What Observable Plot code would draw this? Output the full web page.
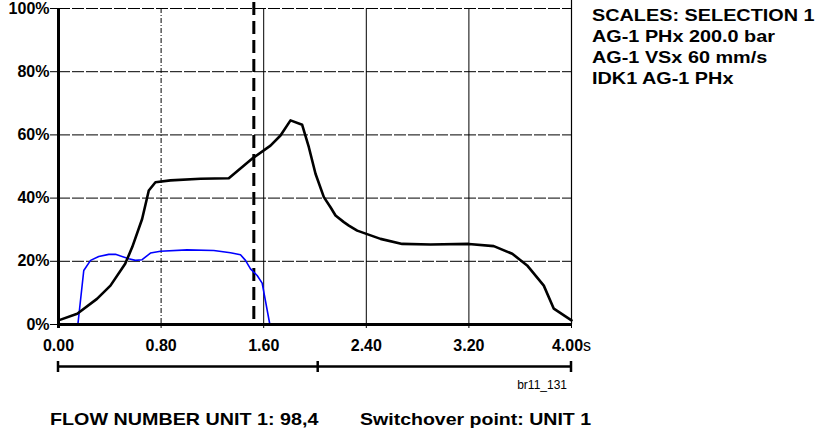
<!DOCTYPE html>
<html><head><meta charset="utf-8">
<script src="https://cdn.jsdelivr.net/npm/d3@7"></script>
<script src="https://cdn.jsdelivr.net/npm/@observablehq/plot@0.6"></script>
<style>body{margin:0;background:#fff} #chart{position:relative;width:815px;height:434px}</style>
</head><body><div id="chart"></div>
<script>
const xTicks = [0, 0.8, 1.6, 2.4, 3.2, 4.0];
const yTicks = [0, 20, 40, 60, 80, 100];
const pressureTime = [0, 0.146, 0.30, 0.405, 0.52, 0.575, 0.652, 0.704, 0.756, 0.873, 1.107, 1.328, 1.523, 1.653, 1.731, 1.809, 1.90, 1.952, 2.004, 2.069, 2.121, 2.16, 2.225, 2.264, 2.329, 2.511, 2.68, 2.90, 3.199, 3.394, 3.538, 3.654, 3.784, 3.862, 4.0];
const pressurePct  = [1.3, 3.4, 8.1, 12.3, 19.2, 24.5, 33.4, 42.4, 45.0, 45.6, 46.1, 46.3, 52.9, 56.6, 59.8, 64.6, 63.2, 56.1, 47.7, 40.3, 37.1, 34.5, 32.4, 31.3, 29.7, 27.1, 25.5, 25.3, 25.5, 24.8, 22.4, 18.7, 12.3, 5.0, 1.3];
const speedTime = [0.151, 0.197, 0.25, 0.314, 0.392, 0.444, 0.548, 0.60, 0.652, 0.717, 0.795, 1.003, 1.211, 1.341, 1.419, 1.458, 1.497, 1.549, 1.588, 1.648];
const speedPct  = [0, 17.1, 20.3, 21.5, 22.2, 22.2, 20.8, 20.3, 20.5, 22.6, 23.2, 23.6, 23.4, 22.7, 22.1, 20.3, 17.6, 15.5, 13.1, 0];
const switchoverTime = [1.523];
const bracketTicks = [0, 2.025, 4.0];
const scalesLines = ["SCALES: SELECTION 1", "AG-1 PHx 200.0 bar", "AG-1 VSx 60 mm/s", "IDK1 AG-1 PHx"];
const footerTexts = ["FLOW NUMBER UNIT 1: 98,4", "Switchover point: UNIT 1"];
const figureId = "br11_131";

const pressure = pressureTime.map((t, i) => ({t, v: pressurePct[i]}));
const speed = speedTime.map((t, i) => ({t, v: speedPct[i]}));

const plot = Plot.plot({
  width: 815, height: 434,
  marginLeft: 58, marginRight: 244, marginTop: 8, marginBottom: 110,
  style: {fontFamily: "'Liberation Sans', Arial, sans-serif", fontSize: "16px", fontWeight: "bold", color: "#000", background: "#fff", overflow: "visible"},
  x: {domain: [0, 4]},
  y: {domain: [0, 100]},
  marks: [
    Plot.ruleY(yTicks.filter(d => d > 0), {stroke: "#000", strokeWidth: 1, strokeDasharray: "12,2"}),
    Plot.ruleX([0.8], {stroke: "#000", strokeWidth: 1, strokeDasharray: "5,2,1,2"}),
    Plot.ruleX([1.6, 2.4, 3.2], {stroke: "#000", strokeWidth: 1}),
    Plot.ruleX([4], {stroke: "#000", strokeWidth: 1.2, insetTop: -8}),
    Plot.ruleX(switchoverTime, {stroke: "#000", strokeWidth: 3, strokeDasharray: "13,6", insetTop: -6}),
    Plot.line(speed, {x: "t", y: "v", stroke: "#0000ff", strokeWidth: 1.6}),
    Plot.line(pressure, {x: "t", y: "v", stroke: "#000", strokeWidth: 2.6}),
    Plot.axisY({ticks: yTicks, tickFormat: d => d + "%", tickSize: 8, tickPadding: 1, label: null}),
    Plot.axisX({ticks: xTicks, tickFormat: d => d === 4 ? "4.00s" : d.toFixed(2), tickSize: 4, tickPadding: 11, label: null}),
    Plot.ruleX([0], {stroke: "#000", strokeWidth: 3, insetBottom: -4}),
    Plot.ruleY([0], {stroke: "#000", strokeWidth: 3})
  ]
});
document.getElementById("chart").appendChild(plot);

const svg = d3.select(plot);
svg.selectAll("[aria-label$='tick label']").attr("font-size", 16).attr("font-weight", "bold");
svg.selectAll("text").filter(function() { return this.textContent === "4.00s"; }).each(function() {
  const el = d3.select(this);
  el.text(null);
  el.append("tspan").text("4.00");
  el.append("tspan").attr("font-weight", "normal").text("s");
});

const xs = plot.scale("x");
const font = "'Liberation Sans', Arial, sans-serif";
// bracket below axis
svg.append("line").attr("x1", xs.apply(0)).attr("x2", xs.apply(4)).attr("y1", 366.5).attr("y2", 366.5)
  .attr("stroke", "#000").attr("stroke-width", 2.5);
bracketTicks.forEach(t => {
  svg.append("line").attr("x1", xs.apply(t)).attr("x2", xs.apply(t)).attr("y1", 361).attr("y2", 372)
    .attr("stroke", "#000").attr("stroke-width", 2.5);
});
svg.append("text").attr("x", 567).attr("y", 389).attr("text-anchor", "end")
  .attr("font-family", font).attr("font-size", 12).attr("font-weight", "normal").attr("fill", "#000").text(figureId);

const gs = svg.append("g").attr("transform", "translate(592,0) scale(1.24,1)");
const baselines = [21, 42.5, 63.5, 84];
scalesLines.forEach((s, i) => {
  gs.append("text").attr("x", 0).attr("y", baselines[i]).attr("text-anchor", "start").attr("font-family", font)
    .attr("font-size", 16).attr("font-weight", "bold").attr("fill", "#000").text(s);
});
const footerX = [50, 360], footerScale = [1.16, 1.15];
footerTexts.forEach((s, i) => {
  svg.append("g").attr("transform", `translate(${footerX[i]},425) scale(${footerScale[i]},1)`)
    .append("text").attr("x", 0).attr("y", 0).attr("text-anchor", "start").attr("font-family", font)
    .attr("font-size", 17).attr("font-weight", "bold").attr("fill", "#000").text(s);
});
</script>
</body></html>
